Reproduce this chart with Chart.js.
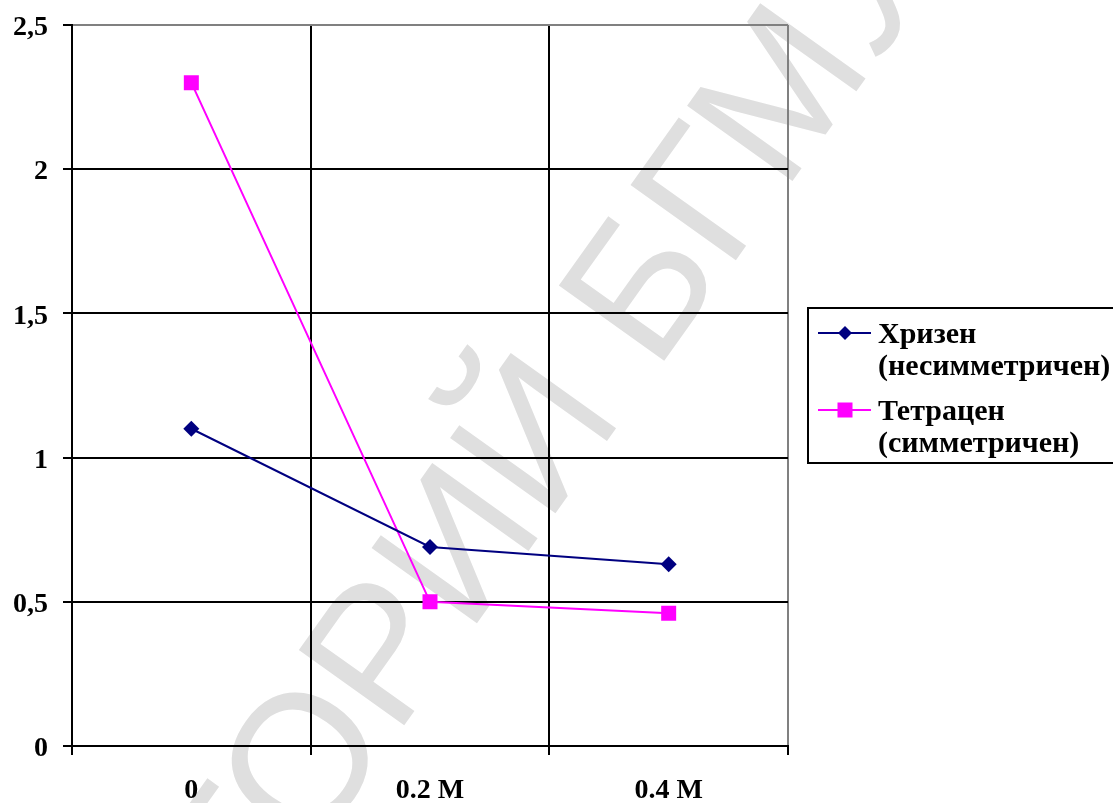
<!DOCTYPE html>
<html><head><meta charset="utf-8">
<script src="https://cdn.jsdelivr.net/npm/chart.js@4"></script>
<style>
html,body{margin:0;padding:0;background:#fff;}
#wrap{position:relative;width:1113px;height:803px;overflow:hidden;}
#legend{position:absolute;left:807px;top:307px;width:306px;height:157px;border:2px solid #000;border-right:none;box-sizing:border-box;font-family:"Liberation Serif","Times New Roman",serif;font-weight:bold;font-size:30px;color:#000;}
.item{position:absolute;left:0;}
.item svg{position:absolute;left:9px;}
.item .txt{position:absolute;left:69px;line-height:32px;white-space:nowrap;}
</style></head><body>
<div id="wrap"><canvas id="c" width="1113" height="803"></canvas><div id="legend"></div></div>
<script>
const categories = ['0', '0.2 M', '0.4 M'];
const seriesNames = [['Хризен', '(несимметричен)'], ['Тетрацен', '(симметричен)']];
const chrysene = [1.1, 0.69, 0.63];
const tetracene = [2.3, 0.5, 0.46];
const yTicks = [0, 0.5, 1, 1.5, 2, 2.5];
const watermarkText = 'РЕПОЗИТОРИЙ БГМУ';

const NAVY = '#000080', MAGENTA = '#FF00FF';
const serifBold = {family: '"Liberation Serif", "Times New Roman", serif', weight: 'bold', size: 28};

const watermark = {
  id: 'watermark',
  beforeDraw(chart) {
    const ctx = chart.ctx;
    ctx.save();
    ctx.fillStyle = '#fff';
    ctx.fillRect(0, 0, chart.width, chart.height);
    const S = 188;
    ctx.font = S + 'px "Liberation Sans", Arial, sans-serif';
    ctx.fillStyle = '#dfdfdf';
    const theta = 54.5 * Math.PI / 180;
    ctx.translate(664, 361);
    ctx.rotate(-theta);
    const pre = ctx.measureText('РЕПОЗИТОРИЙ ').width;
    ctx.textBaseline = 'alphabetic';
    ctx.fillText(watermarkText, -(pre + 0.08 * S), 0);
    ctx.restore();
  }
};

const chart = new Chart(document.getElementById('c'), {
  type: 'line',
  data: {
    labels: categories,
    datasets: [
      {label: seriesNames[0].join(' '), data: chrysene, borderColor: NAVY, backgroundColor: NAVY,
       borderWidth: 2, pointStyle: 'rectRot', pointRadius: 8, pointHoverRadius: 8, pointBorderWidth: 0, tension: 0},
      {label: seriesNames[1].join(' '), data: tetracene, borderColor: MAGENTA, backgroundColor: MAGENTA,
       borderWidth: 2, pointStyle: 'rect', pointRadius: 10.6, pointHoverRadius: 10.6, pointBorderWidth: 0, tension: 0}
    ]
  },
  options: {
    responsive: false,
    animation: false,
    events: [],
    layout: {padding: {left: 0, right: 325, top: 25, bottom: 0}},
    plugins: {legend: {display: false}, tooltip: {enabled: false}},
    scales: {
      x: {
        type: 'category', offset: true,
        grid: {offset: true, lineWidth: 2, tickLength: 9, tickColor: '#000', tickWidth: 2,
               color: c => c.type === 'tick' ? '#000' : '#808080'},
        border: {color: '#000', width: 2},
        ticks: {color: '#000', font: serifBold, padding: 19, maxRotation: 0, autoSkip: false},
        afterFit(s) { s.height = 57; s.paddingLeft = 0; s.paddingRight = 0; s.paddingTop = 0; s.paddingBottom = 0; }
      },
      y: {
        type: 'linear', min: 0, max: 2.5,
        afterBuildTicks(s) { s.ticks = yTicks.map(v => ({value: v})); },
        grid: {lineWidth: 2, tickLength: 9, tickColor: '#000', tickWidth: 2,
               color: c => (c.tick && c.tick.value === 2.5) ? '#808080' : '#000'},
        border: {color: '#000', width: 2},
        ticks: {color: '#000', font: serifBold, padding: 15, labelOffset: 3, callback: v => String(v).replace('.', ',')},
        afterFit(s) { s.width = 72; s.paddingLeft = 0; s.paddingRight = 0; s.paddingTop = 0; s.paddingBottom = 0; }
      }
    }
  },
  plugins: [watermark]
});

// HTML legend built from the datasets
const legend = document.getElementById('legend');
const rowTops = [8, 85];
chart.data.datasets.forEach((ds, i) => {
  const item = document.createElement('div');
  item.className = 'item';
  item.style.top = rowTops[i] + 'px';
  const marker = ds.pointStyle === 'rectRot'
    ? '<polygon points="27,6 34,13 27,20 20,13" fill="' + ds.borderColor + '"/>'
    : '<rect x="19.5" y="5.5" width="15" height="15" fill="' + ds.borderColor + '"/>';
  item.innerHTML = '<svg width="54" height="26" style="top:3px"><line x1="0" y1="13" x2="53" y2="13" stroke="' +
    ds.borderColor + '" stroke-width="2"/>' + marker + '</svg>' +
    '<div class="txt">' + seriesNames[i].map(t => '<div>' + t + '</div>').join('') + '</div>';
  legend.appendChild(item);
});
</script>
</body></html>
